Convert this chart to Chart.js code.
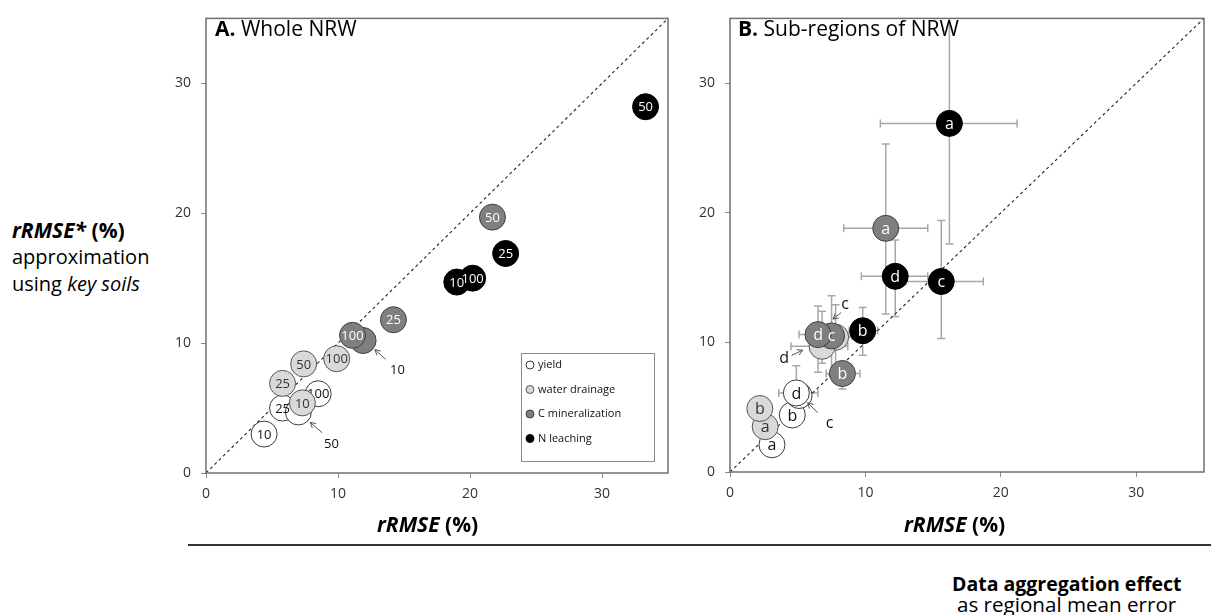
<!DOCTYPE html>
<html><head><meta charset="utf-8">
<script src="https://cdn.jsdelivr.net/npm/chart.js@4.4.1/dist/chart.umd.min.js"></script>
<style>
html,body{margin:0;padding:0;background:#fff;width:1211px;height:615px;overflow:hidden;font-family:"Open Sans",sans-serif;color:#000}
#wrap{position:relative;width:1211px;height:615px}
canvas{position:absolute;top:0}
.t{position:absolute;white-space:nowrap;line-height:1;font-size:20px}
b i, i b{font-weight:700}
</style></head><body><div id="wrap">
<canvas id="cA" width="530" height="515" style="left:150px"></canvas>
<canvas id="cB" width="534" height="514" style="left:674px"></canvas>
<div class="t" style="left:215px;top:18px;font-size:21px"><b>A.</b> Whole NRW</div>
<div class="t" style="left:738px;top:18px;font-size:21px"><b>B.</b> Sub-regions of NRW</div>
<div class="t" style="left:12px;top:220px;font-size:21px"><b><i>rRMSE*</i> (%)</b></div>
<div class="t" style="left:12px;top:247px">approximation</div>
<div class="t" style="left:12px;top:274px">using <i>key soils</i></div>
<div class="t" style="left:377px;top:514px;font-size:21px"><b><i>rRMSE</i> (%)</b></div>
<div class="t" style="left:904px;top:514px;font-size:21px"><b><i>rRMSE</i> (%)</b></div>
<div style="position:absolute;left:188px;top:544px;width:1023px;height:2px;background:#333"></div>
<div class="t" style="left:952px;top:574px;font-weight:700;font-size:19.5px">Data aggregation effect</div>
<div class="t" style="left:957px;top:594px;font-size:20.6px">as regional mean error</div>
</div>
<script>
// ---- data ----
const tickVals = [0, 10, 20, 30];
const seriesNames = ['yield', 'water drainage', 'C mineralization', 'N leaching'];

// Panel A: whole NRW (labels = number of key soils)
const aYieldX = [4.4, 5.8, 7.0, 8.5],   aYieldY = [3.0, 5.0, 4.7, 6.1],   aYieldLab = ['10', '25', '', '100'];
const aWaterX = [7.3, 5.8, 7.4, 9.9],   aWaterY = [5.4, 6.9, 8.4, 8.8],   aWaterLab = ['10', '25', '50', '100'];
const aCX     = [11.9, 11.1, 14.2, 21.7], aCY   = [10.2, 10.6, 11.8, 19.7], aCLab   = ['', '100', '25', '50'];
const aNX     = [20.2, 19.0, 22.7, 33.3], aNY   = [15.0, 14.7, 16.9, 28.2], aNLab   = ['100', '10', '25', '50'];

// Panel B: sub-regions a-d
const bYieldX = [3.1, 4.6, 5.1, 4.9],   bYieldY = [2.1, 4.4, 5.9, 6.1],   bYieldLab = ['a', 'b', '', 'd'];
const bWaterX = [2.6, 2.2, 7.8, 6.8],   bWaterY = [3.5, 4.9, 10.4, 9.7],  bWaterLab = ['a', 'b', '', ''];
const bCX     = [11.5, 8.3, 7.5, 6.5],  bCY     = [18.8, 7.6, 10.5, 10.6], bCLab  = ['a', 'b', 'c', 'd'];
const bNX     = [16.2, 9.8, 15.6, 12.2], bNY    = [26.9, 10.9, 14.7, 15.1], bNLab = ['a', 'b', 'c', 'd'];

// Panel B error ranges [low, high]
const bYieldXErr = [null, null, null, [3.6, 6.5]];
const bYieldYErr = [[1.3, 2.9], null, null, [5.0, 8.2]];
const bWaterXErr = [null, null, [6.4, 9.2], [4.5, 8.7]];
const bWaterYErr = [null, null, [8.0, 12.9], [8.4, 12.4]];
const bCXErr = [[8.4, 14.6], [7.1, 9.6], [5.6, 9.0], [5.1, 8.5]];
const bCYErr = [[12.2, 25.3], [6.4, 8.3], [7.5, 13.6], [7.7, 12.8]];
const bNXErr = [[11.1, 21.2], [8.8, 10.9], [13.0, 18.7], [9.7, 14.6]];
const bNYErr = [[17.6, 36], [9.0, 12.7], [10.3, 19.4], [12.0, 17.9]];

// Arrow callouts (data coordinates)
const aNotes = [
  {t: '50', x: 9.5, y: 2.2, from: [8.8, 3.1], to: [7.9, 3.9]},
  {t: '10', x: 14.5, y: 7.9, from: [13.6, 8.75], to: [12.8, 9.5]}
];
const bNotes = [
  {t: 'c', x: 8.5, y: 12.9, from: [8.2, 12.3], to: [7.6, 11.8]},
  {t: 'd', x: 4.0, y: 8.8, from: [4.55, 9.0], to: [5.37, 9.4]},
  {t: 'c', x: 7.35, y: 3.74, from: [6.47, 4.58], to: [5.74, 5.34]}
];

// ---- styles ----
const FONT = 'Open Sans';
const fills = ['#ffffff', '#d9d9d9', '#7f7f7f', '#000000'];
const edges = ['#3a3a3a', '#555555', '#404040', '#000000'];
const txtCol = ['#111', '#333', '#fff', '#fff'];

function pts(xs, ys) { return xs.map((x, i) => ({x: x, y: ys[i]})); }

function makeDatasets(sets, labelSize) {
  const ds = [{
    type: 'line', data: [{x: 0, y: 0}, {x: 35, y: 35}], borderColor: '#222', borderWidth: 1.1,
    borderDash: [3, 3], pointRadius: 0, order: 10, clip: false
  }];
  sets.forEach((s, i) => {
    ds.push({
      type: 'scatter', label: seriesNames[i], data: pts(s[0], s[1]), ptLabels: s[2],
      backgroundColor: fills[i], borderColor: edges[i], borderWidth: 1, pointRadius: 13,
      order: 4 - i, txtColor: txtCol[i], txtSize: labelSize
    });
  });
  return ds;
}

function mkScales() {
  const base = {
    type: 'linear', min: 0, max: 35,
    afterBuildTicks: s => { s.ticks = tickVals.map(v => ({value: v})); },
    grid: {drawOnChartArea: false, drawTicks: true, tickLength: 5, color: '#888', lineWidth: 1},
    border: {display: false},
    ticks: {color: '#333', font: {family: FONT, size: 14}}
  };
  return {
    x: Object.assign({}, base, {afterFit: s => { s.height = 42; }, ticks: Object.assign({}, base.ticks, {padding: 8})}),
    y: Object.assign({}, base, {afterFit: s => { s.width = 56; }, ticks: Object.assign({}, base.ticks, {padding: 10})})
  };
}

const framePlugin = {
  id: 'frame',
  afterDraw(c) {
    const a = c.chartArea, x = c.ctx;
    x.save(); x.strokeStyle = '#707070'; x.lineWidth = 1.5;
    x.strokeRect(a.left, a.top, a.right - a.left, a.bottom - a.top); x.restore();
  }
};

const errPlugin = {
  id: 'errBars',
  beforeDatasetsDraw(c, args, opts) {
    if (!opts || !opts.bars) return;
    const x = c.ctx, sx = c.scales.x, sy = c.scales.y, a = c.chartArea;
    x.save();
    x.beginPath(); x.rect(a.left, a.top, a.right - a.left, a.bottom - a.top); x.clip();
    x.strokeStyle = '#a8a8a8'; x.lineWidth = 1.5;
    const cap = 4;
    opts.bars.forEach(b => {
      const px = sx.getPixelForValue(b.x), py = sy.getPixelForValue(b.y);
      x.beginPath();
      if (b.xe) {
        const l = sx.getPixelForValue(b.xe[0]), r = sx.getPixelForValue(b.xe[1]);
        x.moveTo(l, py); x.lineTo(r, py);
        x.moveTo(l, py - cap); x.lineTo(l, py + cap);
        x.moveTo(r, py - cap); x.lineTo(r, py + cap);
      }
      if (b.ye) {
        const lo = sy.getPixelForValue(b.ye[0]), hi = sy.getPixelForValue(b.ye[1]);
        x.moveTo(px, lo); x.lineTo(px, hi);
        x.moveTo(px - cap, lo); x.lineTo(px + cap, lo);
        x.moveTo(px - cap, hi); x.lineTo(px + cap, hi);
      }
      x.stroke();
    });
    x.restore();
  }
};

const labelPlugin = {
  id: 'ptLabels',
  afterDatasetDraw(c, args) {
    const ds = c.data.datasets[args.index];
    if (!ds.ptLabels) return;
    const x = c.ctx;
    x.save();
    x.fillStyle = ds.txtColor; x.textAlign = 'center'; x.textBaseline = 'middle';
    x.font = ds.txtSize + 'px "' + FONT + '"';
    args.meta.data.forEach((el, i) => {
      const t = ds.ptLabels[i];
      if (t) x.fillText(t, el.x, el.y + 1);
    });
    x.restore();
  }
};

const notePlugin = {
  id: 'notes',
  afterDatasetsDraw(c, args, opts) {
    if (!opts || !opts.items) return;
    const x = c.ctx, sx = c.scales.x, sy = c.scales.y;
    x.save();
    opts.items.forEach(n => {
      x.fillStyle = '#111'; x.textAlign = 'center'; x.textBaseline = 'middle';
      x.font = opts.size + 'px "' + FONT + '"';
      x.fillText(n.t, sx.getPixelForValue(n.x), sy.getPixelForValue(n.y));
      const x1 = sx.getPixelForValue(n.from[0]), y1 = sy.getPixelForValue(n.from[1]);
      const x2 = sx.getPixelForValue(n.to[0]), y2 = sy.getPixelForValue(n.to[1]);
      x.strokeStyle = '#555'; x.lineWidth = 1;
      x.beginPath(); x.moveTo(x1, y1); x.lineTo(x2, y2);
      const ang = Math.atan2(y2 - y1, x2 - x1), h = 6;
      x.moveTo(x2 - h * Math.cos(ang - 0.5), y2 - h * Math.sin(ang - 0.5)); x.lineTo(x2, y2);
      x.lineTo(x2 - h * Math.cos(ang + 0.5), y2 - h * Math.sin(ang + 0.5));
      x.stroke();
    });
    x.restore();
  }
};

const legendPlugin = {
  id: 'boxLegend',
  afterDraw(c, args, opts) {
    if (!opts || !opts.show) return;
    const x = c.ctx, a = c.chartArea;
    const w = 133, h = 108, l = a.right - 14 - w, t = a.bottom - 12 - h;
    x.save();
    x.fillStyle = '#fff'; x.fillRect(l, t, w, h);
    x.strokeStyle = '#8a8a8a'; x.lineWidth = 1; x.strokeRect(l + 0.5, t + 0.5, w, h);
    x.font = '11px "' + FONT + '"'; x.textBaseline = 'middle'; x.textAlign = 'left';
    seriesNames.forEach((nm, i) => {
      const y = t + 12 + i * 24.5;
      x.beginPath(); x.arc(l + 9, y, 4, 0, Math.PI * 2);
      x.fillStyle = fills[i]; x.fill(); x.strokeStyle = edges[i]; x.stroke();
      x.fillStyle = '#111'; x.fillText(nm, l + 17, y);
    });
    x.restore();
  }
};

function buildBars(sets) {
  const out = [];
  sets.forEach(s => s[0].forEach((v, i) => {
    if (s[2][i] || s[3][i]) out.push({x: v, y: s[1][i], xe: s[2][i], ye: s[3][i]});
  }));
  return out;
}

const common = (extra) => ({
  responsive: false, animation: false, events: [],
  layout: extra.layout,
  scales: mkScales(),
  plugins: Object.assign({legend: {display: false}, tooltip: {enabled: false}}, extra.plugins)
});

new Chart(document.getElementById('cA'), {
  type: 'scatter',
  data: {datasets: makeDatasets([[aYieldX, aYieldY, aYieldLab], [aWaterX, aWaterY, aWaterLab], [aCX, aCY, aCLab], [aNX, aNY, aNLab]], 13)},
  options: common({
    layout: {autoPadding: false, padding: {top: 13, right: 12, left: 0, bottom: 0}},
    plugins: {notes: {items: aNotes, size: 13}, boxLegend: {show: true}}
  }),
  plugins: [framePlugin, labelPlugin, notePlugin, legendPlugin]
});

new Chart(document.getElementById('cB'), {
  type: 'scatter',
  data: {datasets: makeDatasets([[bYieldX, bYieldY, bYieldLab], [bWaterX, bWaterY, bWaterLab], [bCX, bCY, bCLab], [bNX, bNY, bNLab]], 16)},
  options: common({
    layout: {autoPadding: false, padding: {top: 13, right: 4, left: 0, bottom: 0}},
    plugins: {
      notes: {items: bNotes, size: 16},
      errBars: {bars: buildBars([[bYieldX, bYieldY, bYieldXErr, bYieldYErr], [bWaterX, bWaterY, bWaterXErr, bWaterYErr], [bCX, bCY, bCXErr, bCYErr], [bNX, bNY, bNXErr, bNYErr]])}
    }
  }),
  plugins: [framePlugin, errPlugin, labelPlugin, notePlugin]
});
</script>
</body></html>
